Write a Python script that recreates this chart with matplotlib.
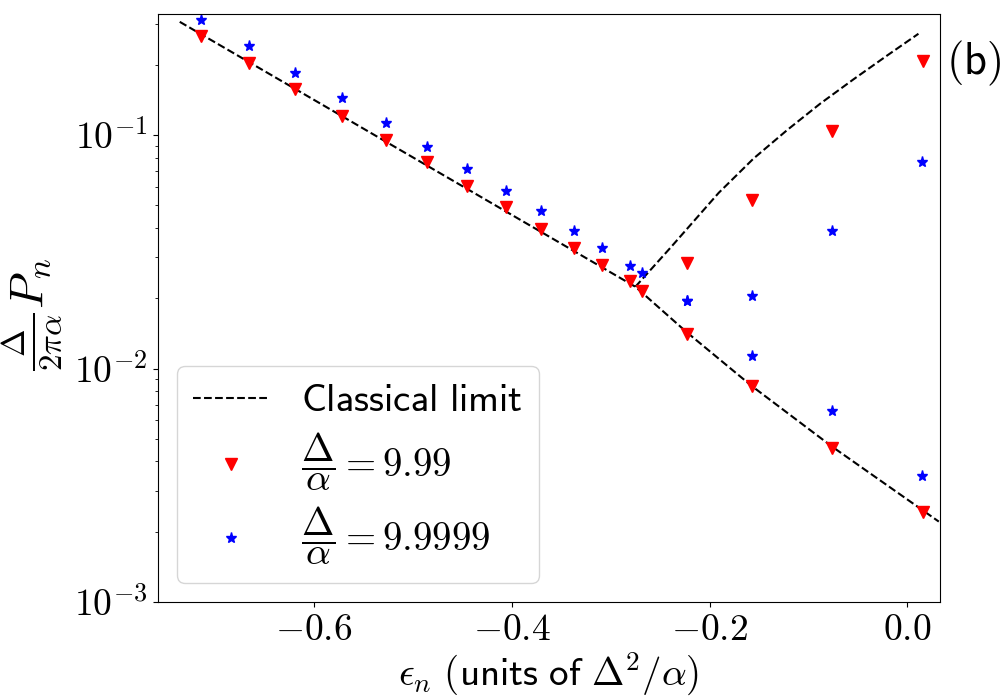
import numpy as np
import matplotlib
matplotlib.use('Agg')
import matplotlib.pyplot as plt
from matplotlib.ticker import FuncFormatter, NullFormatter

plt.rcParams['mathtext.fontset'] = 'cm'

# classical limit
cl_low_x = [-0.736, -0.500, -0.275, -0.223, -0.157, -0.076, 0.032]
cl_low_y = [0.3055, 0.0802, 0.0224, 0.0143, 0.0084, 0.00463, 0.00221]
cl_up_x = [-0.275, -0.2394, -0.1906, -0.1553, -0.1215, -0.0879, -0.0542, -0.0205, 0.0114]
cl_up_y = [0.0224, 0.03296, 0.05662, 0.07943, 0.1050, 0.1364, 0.1734, 0.2188, 0.2716]

# Delta/alpha = 9.99
red_x = [-0.714, -0.666, -0.619, -0.572, -0.527, -0.486, -0.445, -0.406, -0.370,
         -0.337, -0.309, -0.280, -0.268,
         -0.223, -0.157, -0.076, 0.016,
         -0.223, -0.157, -0.076, 0.016]
red_y = [0.266, 0.204, 0.158, 0.121, 0.0957, 0.0763, 0.0608, 0.049, 0.0395,
         0.0327, 0.0277, 0.0237, 0.0214,
         0.01403, 0.00841, 0.00457, 0.00242,
         0.0282, 0.0525, 0.1045, 0.208]

# Delta/alpha = 9.9999
blue_x = [-0.714, -0.666, -0.619, -0.572, -0.527, -0.486, -0.445, -0.406, -0.370,
          -0.337, -0.309, -0.280, -0.268,
          -0.223, -0.157, -0.076, 0.015,
          -0.223, -0.157, -0.076, 0.015]
blue_y = [0.312, 0.241, 0.185, 0.1445, 0.113, 0.0893, 0.0713, 0.0574, 0.0471,
          0.0387, 0.0327, 0.0274, 0.0256,
          0.0194, 0.0113, 0.00658, 0.00347,
          0.0194, 0.0204, 0.0387, 0.077]

fig = plt.figure(figsize=(10, 7), dpi=100)
ax = fig.add_axes([0.1575, 0.14, 0.782, 0.84])

ax.plot(cl_low_x, cl_low_y, 'k--', lw=1.5, label=r'$\mathsf{Classical\ limit}$')
ax.plot(cl_up_x, cl_up_y, 'k--', lw=1.5)
ax.plot(red_x, red_y, 'v', color='red', ms=8, ls='none',
        label=r'$\dfrac{\Delta}{\alpha}=9.99$')
ax.plot(blue_x, blue_y, '*', color='blue', ms=8, ls='none',
        label=r'$\dfrac{\Delta}{\alpha}=9.9999$')

ax.set_yscale('log')
ax.set_ylim(1e-3, 0.33)
ax.set_xlim(-0.7585, 0.0327)
ax.set_xticks([-0.6, -0.4, -0.2, 0.0])
ax.xaxis.set_major_formatter(FuncFormatter(lambda v, p: r'$%.1f$' % (0.0 if abs(v) < 1e-9 else v)))
ax.yaxis.set_major_formatter(FuncFormatter(lambda v, p: r'$10^{%d}$' % int(round(np.log10(v)))))
ax.yaxis.set_minor_formatter(NullFormatter())
ax.tick_params(labelsize=27)

ax.set_xlabel(r'$\epsilon_n\ \mathsf{(units\ of\ }\Delta^2/\alpha\mathsf{)}$', fontsize=28, labelpad=2)
ax.set_ylabel(r'$\frac{\Delta}{2\pi\alpha}P_n$', fontsize=34)
ax.yaxis.set_label_coords(-0.118, 0.49)

ax.legend(loc='lower left', fontsize=28, borderaxespad=0.5, labelspacing=0.3)
fig.text(0.946, 0.91, r'$\mathsf{(b)}$', fontsize=32, va='center', ha='left')

fig.savefig('out.png', dpi=100)
